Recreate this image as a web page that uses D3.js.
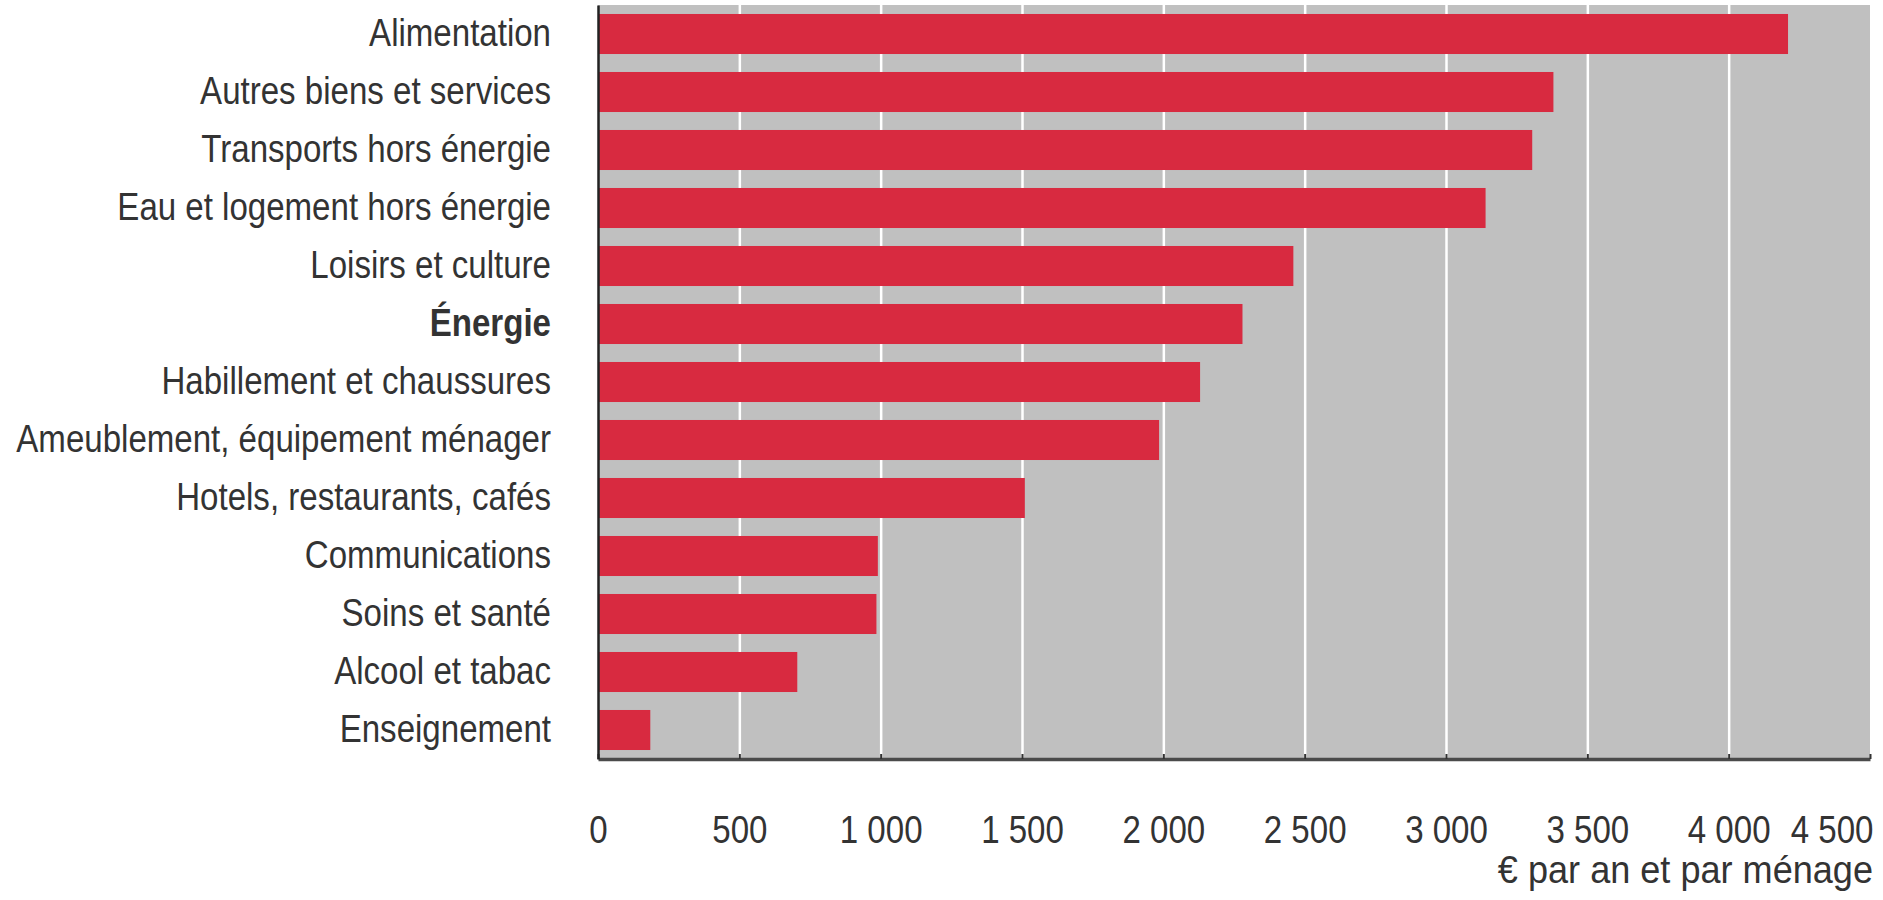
<!DOCTYPE html>
<html><head><meta charset="utf-8">
<script src="https://cdn.jsdelivr.net/npm/d3@7"></script>
<style>body{margin:0;background:#fff}</style>
</head><body><svg id="c" width="1883" height="900"></svg>
<script>
const categories = [
  "Alimentation",
  "Autres biens et services",
  "Transports hors énergie",
  "Eau et logement hors énergie",
  "Loisirs et culture",
  "Énergie",
  "Habillement et chaussures",
  "Ameublement, équipement ménager",
  "Hotels, restaurants, cafés",
  "Communications",
  "Soins et santé",
  "Alcool et tabac",
  "Enseignement"
];
const values = [4210, 3380, 3305, 3140, 2460, 2280, 2130, 1985, 1510, 990, 985, 705, 185];
const boldCategories = ["Énergie"];
const tickValues = [0, 500, 1000, 1500, 2000, 2500, 3000, 3500, 4000, 4500];
const tickLabels = ["0", "500", "1 000", "1 500", "2 000", "2 500", "3 000", "3 500", "4 000", "4 500"];
const unitLabel = "€ par an et par ménage";

const FONT = "'Liberation Sans', Arial, sans-serif";
const FS = 38;
const SX = 0.87;   // horizontal condensing of the text
const svg = d3.select("#c");
const L = 598, R = 1870, T = 5, B = 759;

const x = d3.scaleLinear().domain([0, 4500]).range([L, R]);
const y = d3.scaleBand().domain(categories).range([T, B]).paddingInner(0.31).paddingOuter(0.155);

// background
svg.append("rect").attr("x", L).attr("y", T).attr("width", R - L).attr("height", B - T).attr("fill", "#c0c0c0");

// white gridlines
const grid = svg.append("g").attr("transform", `translate(0,${B})`)
  .call(d3.axisBottom(x).tickValues(tickValues.slice(1, -1)).tickSize(-(B - T)).tickFormat(""));
grid.select(".domain").remove();
grid.selectAll("line").attr("stroke", "#ffffff").attr("stroke-width", 2.5);

// bars
svg.append("g").selectAll("rect").data(categories).join("rect")
  .attr("x", x(0))
  .attr("y", d => y(d))
  .attr("width", (d, i) => x(values[i]) - x(0))
  .attr("height", y.bandwidth())
  .attr("fill", "#d82a40");

// bottom axis
const TP = 57;
const ax = svg.append("g").attr("transform", `translate(0,${B})`)
  .call(d3.axisBottom(x).tickValues(tickValues).tickSizeInner(-5).tickSizeOuter(0).tickPadding(TP)
    .tickFormat((d, i) => tickLabels[i]));
ax.select(".domain").attr("stroke", "#4a4a4a").attr("stroke-width", 3.5);
ax.selectAll(".tick line").attr("stroke", "#333").attr("stroke-width", 2);
ax.selectAll(".tick text").attr("fill", "#333").style("font-family", FONT).style("font-size", FS + "px")
  .attr("y", 0).attr("transform", `translate(0,${TP}) scale(${SX},1)`);
ax.selectAll(".tick").filter(d => d === 4500).select("text").attr("text-anchor", "end").attr("x", 3 / SX);

// left axis
const LP = 47;
const ay = svg.append("g").attr("transform", `translate(${L},0)`)
  .call(d3.axisLeft(y).tickSize(0).tickPadding(LP));
ay.select(".domain").attr("stroke", "#222").attr("stroke-width", 2.5);
ay.selectAll(".tick text").attr("fill", "#333").style("font-family", FONT).style("font-size", FS + "px")
  .style("font-weight", d => boldCategories.includes(d) ? "bold" : "normal")
  .attr("x", 0).attr("transform", `translate(${-LP},0) scale(${SX},1)`);

// unit label
svg.append("text").attr("transform", `translate(${R + 3},883) scale(0.95,1)`).attr("text-anchor", "end")
  .attr("fill", "#333").style("font-family", FONT).style("font-size", FS + "px").text(unitLabel);
</script>
</body></html>
